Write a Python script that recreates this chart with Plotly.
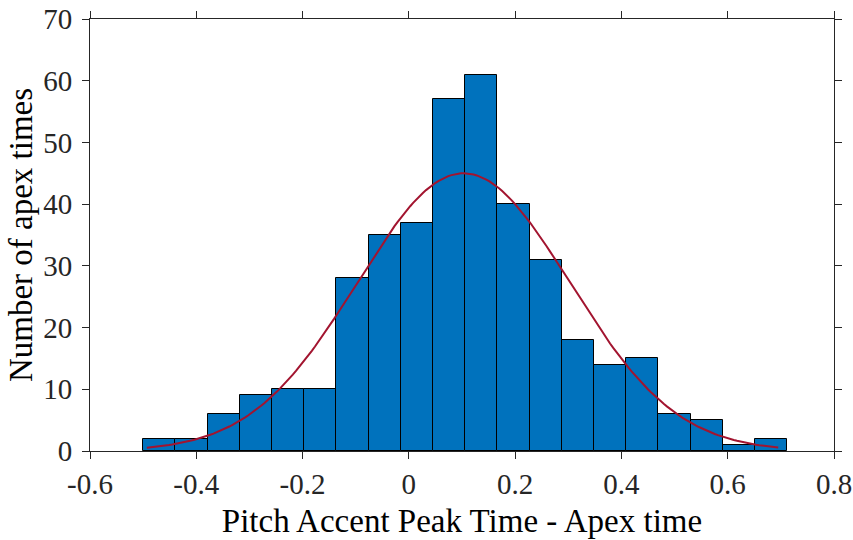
import numpy as np
import plotly.graph_objects as go

# Histogram of peak-time offsets (20 equal bins)
bin_start = -0.5
bin_width = 0.0606
counts = [2, 2, 6, 9, 10, 10, 28, 35, 37, 57, 61, 40, 31, 18, 14, 15, 6, 5, 1, 2]

# Fitted normal curve parameters
fit_mu = 0.103
fit_sigma = 0.2
fit_peak = 45.0
fit_x_min = -0.493
fit_x_max = 0.695

# Axis ticks
x_tickvals = [-0.6, -0.4, -0.2, 0, 0.2, 0.4, 0.6, 0.8]
x_ticktext = ["-0.6", "-0.4", "-0.2", "0", "0.2", "0.4", "0.6", "0.8"]
y_tickvals = [0, 10, 20, 30, 40, 50, 60, 70]
y_ticktext = ["0", "10", "20", "30", "40", "50", "60", "70"]

centers = [bin_start + (i + 0.5) * bin_width for i in range(len(counts))]

xs = np.linspace(fit_x_min, fit_x_max, 200)
ys = fit_peak * np.exp(-0.5 * ((xs - fit_mu) / fit_sigma) ** 2)

axis_color = "#262626"
font_family = "Liberation Serif, Times New Roman, serif"

fig = go.Figure()
fig.add_trace(go.Bar(
    x=centers, y=counts, width=[bin_width] * len(counts),
    marker=dict(color="#0072BD", line=dict(color="black", width=1)),
    showlegend=False,
))
fig.add_trace(go.Scatter(
    x=xs, y=ys, mode="lines",
    line=dict(color="#A2142F", width=2),
    showlegend=False,
))

axis_common = dict(
    showgrid=False, zeroline=False, showline=True, linecolor=axis_color,
    linewidth=1, mirror="allticks", ticks="outside", ticklen=7,
    tickcolor=axis_color, tickwidth=1, automargin=False,
    tickfont=dict(family=font_family, size=29, color=axis_color),
)

fig.update_xaxes(
    range=[-0.6, 0.8], tickmode="array", tickvals=x_tickvals, ticktext=x_ticktext,
    title=dict(text="Pitch Accent Peak Time - Apex time",
               font=dict(family=font_family, size=33, color="black"), standoff=10),
    ticklabelstandoff=0,
    **axis_common,
)
fig.update_yaxes(
    range=[0, 70], tickmode="array", tickvals=y_tickvals, ticktext=y_ticktext,
    title=dict(text="Number of apex times",
               font=dict(family=font_family, size=33, color="black"), standoff=0),
    ticklabelstandoff=4,
    **axis_common,
)

fig.update_layout(
    width=853, height=540,
    margin=dict(l=90, r=19, t=19, b=89),
    paper_bgcolor="white", plot_bgcolor="white",
    bargap=0,
)

fig.write_html("out.html")
